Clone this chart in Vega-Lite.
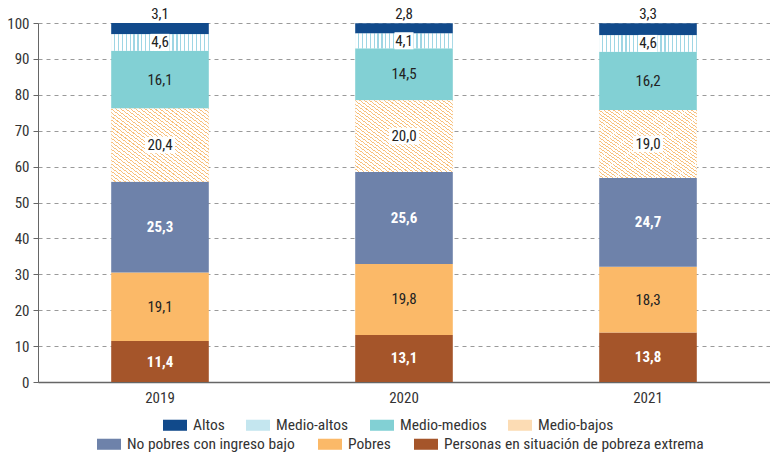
{
  "$schema": "https://vega.github.io/schema/vega-lite/v6.json",
  "width": 732,
  "height": 359,
  "autosize": "none",
  "padding": {"left": 38, "top": 23, "right": 0, "bottom": 72},
  "config": {
    "font": "Liberation Sans Narrow, Roboto Condensed, DejaVu Sans Condensed, sans-serif",
    "view": {"stroke": null},
    "axisY": {
      "tickCount": 12,
      "labelOverlap": false,
      "grid": true,
      "gridDash": [4, 4],
      "gridColor": "#9a9a9a",
      "domainColor": "#666666",
      "tickColor": "#666666",
      "tickSize": 5,
      "labelFontSize": 15,
      "labelColor": "#333333",
      "labelPadding": 4
    }
  },
  "data": {
    "values": [
      {"anio": "2019", "cat": "Personas en situación de pobreza extrema", "v": 11.4},
      {"anio": "2019", "cat": "Pobres", "v": 19.1},
      {"anio": "2019", "cat": "No pobres con ingreso bajo", "v": 25.3},
      {"anio": "2019", "cat": "Medio-bajos", "v": 20.4},
      {"anio": "2019", "cat": "Medio-medios", "v": 16.1},
      {"anio": "2019", "cat": "Medio-altos", "v": 4.6},
      {"anio": "2019", "cat": "Altos", "v": 3.1},
      {"anio": "2020", "cat": "Personas en situación de pobreza extrema", "v": 13.1},
      {"anio": "2020", "cat": "Pobres", "v": 19.8},
      {"anio": "2020", "cat": "No pobres con ingreso bajo", "v": 25.6},
      {"anio": "2020", "cat": "Medio-bajos", "v": 20.0},
      {"anio": "2020", "cat": "Medio-medios", "v": 14.5},
      {"anio": "2020", "cat": "Medio-altos", "v": 4.1},
      {"anio": "2020", "cat": "Altos", "v": 2.8},
      {"anio": "2021", "cat": "Personas en situación de pobreza extrema", "v": 13.8},
      {"anio": "2021", "cat": "Pobres", "v": 18.3},
      {"anio": "2021", "cat": "No pobres con ingreso bajo", "v": 24.7},
      {"anio": "2021", "cat": "Medio-bajos", "v": 19.0},
      {"anio": "2021", "cat": "Medio-medios", "v": 16.2},
      {"anio": "2021", "cat": "Medio-altos", "v": 4.6},
      {"anio": "2021", "cat": "Altos", "v": 3.3}
    ]
  },
  "transform": [
    {"calculate": "indexof(['Personas en situación de pobreza extrema','Pobres','No pobres con ingreso bajo','Medio-bajos','Medio-medios','Medio-altos','Altos'], datum.cat)", "as": "o"},
    {"stack": "v", "groupby": ["anio"], "sort": [{"field": "o", "order": "ascending"}], "as": ["y0", "y1"]},
    {"calculate": "(datum.y0 + datum.y1) / 2", "as": "ym"},
    {"calculate": "replace(format(datum.v, '.1f'), '.', ',')", "as": "lab"}
  ],
  "encoding": {
    "x": {
      "field": "anio",
      "type": "nominal",
      "scale": {"paddingInner": 0.6, "paddingOuter": 0.3},
      "axis": {
        "title": null,
        "labelAngle": 0,
        "labelFontSize": 15,
        "labelColor": "#333333",
        "labelPadding": 8,
        "ticks": false,
        "domainColor": "#666666",
        "domainWidth": 1.5
      }
    }
  },
  "layer": [
    {
      "transform": [{"filter": "indexof(['Medio-bajos','Medio-medios','Medio-altos','Altos'], datum.cat) >= 0"}],
      "mark": {"type": "bar"},
      "encoding": {
        "y": {
          "field": "y0",
          "type": "quantitative",
          "scale": {"domain": [0, 100], "nice": false},
          "axis": {"title": null, "tickCount": 12, "values": [0, 10, 20, 30, 40, 50, 60, 70, 80, 90, 100]}
        },
        "y2": {"field": "y1"},
        "color": {
          "field": "cat",
          "type": "nominal",
          "scale": {
            "domain": ["Altos", "Medio-altos", "Medio-medios", "Medio-bajos"],
            "range": ["#114a8b", "#c4e6ef", "#82d0d4", "#fcdcb4"]
          },
          "legend": {
            "title": null,
            "orient": "none",
            "legendX": 125,
            "legendY": 390,
            "direction": "horizontal",
            "symbolType": "M-1,-0.46H1V0.46H-1Z",
            "symbolSize": 576,
            "symbolStrokeWidth": 0,
            "labelFontSize": 15.5,
            "labelColor": "#333333",
            "labelOffset": 6,
            "labelLimit": 400,
            "columnPadding": 21
          }
        }
      }
    },
    {
      "transform": [{"filter": "indexof(['Medio-bajos','Medio-medios','Medio-altos','Altos'], datum.cat) < 0"}],
      "mark": {"type": "bar"},
      "encoding": {
        "y": {"field": "y0", "type": "quantitative", "axis": {"title": null, "tickCount": 12, "values": [0, 10, 20, 30, 40, 50, 60, 70, 80, 90, 100]}},
        "y2": {"field": "y1"},
        "fill": {
          "field": "cat",
          "type": "nominal",
          "scale": {
            "domain": ["No pobres con ingreso bajo", "Pobres", "Personas en situación de pobreza extrema"],
            "range": ["#6e82aa", "#fbb968", "#a5552a"]
          },
          "legend": {
            "title": null,
            "orient": "none",
            "legendX": 59,
            "legendY": 409,
            "direction": "horizontal",
            "symbolType": "M-1,-0.46H1V0.46H-1Z",
            "symbolSize": 576,
            "symbolStrokeWidth": 0,
            "labelFontSize": 15.5,
            "labelColor": "#333333",
            "labelOffset": 6,
            "labelLimit": 400,
            "columnPadding": 23
          }
        }
      }
    },
    {
      "transform": [{"filter": "datum.cat == 'Medio-altos'"}],
      "mark": {
        "type": "bar",
        "color": {"gradient": "linear", "x1": 0, "y1": 0, "x2": 1, "y2": 0, "stops": [
          {"offset": 0, "color": "#ffffff"}, {"offset": 0.028, "color": "#ffffff"}, {"offset": 0.028, "color": "#9fd6e4"}, {"offset": 0.04, "color": "#9fd6e4"},
          {"offset": 0.04, "color": "#ffffff"}, {"offset": 0.068, "color": "#ffffff"}, {"offset": 0.068, "color": "#9fd6e4"}, {"offset": 0.08, "color": "#9fd6e4"},
          {"offset": 0.08, "color": "#ffffff"}, {"offset": 0.108, "color": "#ffffff"}, {"offset": 0.108, "color": "#9fd6e4"}, {"offset": 0.12, "color": "#9fd6e4"},
          {"offset": 0.12, "color": "#ffffff"}, {"offset": 0.148, "color": "#ffffff"}, {"offset": 0.148, "color": "#9fd6e4"}, {"offset": 0.16, "color": "#9fd6e4"},
          {"offset": 0.16, "color": "#ffffff"}, {"offset": 0.188, "color": "#ffffff"}, {"offset": 0.188, "color": "#9fd6e4"}, {"offset": 0.2, "color": "#9fd6e4"},
          {"offset": 0.2, "color": "#ffffff"}, {"offset": 0.228, "color": "#ffffff"}, {"offset": 0.228, "color": "#9fd6e4"}, {"offset": 0.24, "color": "#9fd6e4"},
          {"offset": 0.24, "color": "#ffffff"}, {"offset": 0.268, "color": "#ffffff"}, {"offset": 0.268, "color": "#9fd6e4"}, {"offset": 0.28, "color": "#9fd6e4"},
          {"offset": 0.28, "color": "#ffffff"}, {"offset": 0.308, "color": "#ffffff"}, {"offset": 0.308, "color": "#9fd6e4"}, {"offset": 0.32, "color": "#9fd6e4"},
          {"offset": 0.32, "color": "#ffffff"}, {"offset": 0.348, "color": "#ffffff"}, {"offset": 0.348, "color": "#9fd6e4"}, {"offset": 0.36, "color": "#9fd6e4"},
          {"offset": 0.36, "color": "#ffffff"}, {"offset": 0.388, "color": "#ffffff"}, {"offset": 0.388, "color": "#9fd6e4"}, {"offset": 0.4, "color": "#9fd6e4"},
          {"offset": 0.4, "color": "#ffffff"}, {"offset": 0.428, "color": "#ffffff"}, {"offset": 0.428, "color": "#9fd6e4"}, {"offset": 0.44, "color": "#9fd6e4"},
          {"offset": 0.44, "color": "#ffffff"}, {"offset": 0.468, "color": "#ffffff"}, {"offset": 0.468, "color": "#9fd6e4"}, {"offset": 0.48, "color": "#9fd6e4"},
          {"offset": 0.48, "color": "#ffffff"}, {"offset": 0.508, "color": "#ffffff"}, {"offset": 0.508, "color": "#9fd6e4"}, {"offset": 0.52, "color": "#9fd6e4"},
          {"offset": 0.52, "color": "#ffffff"}, {"offset": 0.548, "color": "#ffffff"}, {"offset": 0.548, "color": "#9fd6e4"}, {"offset": 0.56, "color": "#9fd6e4"},
          {"offset": 0.56, "color": "#ffffff"}, {"offset": 0.588, "color": "#ffffff"}, {"offset": 0.588, "color": "#9fd6e4"}, {"offset": 0.6, "color": "#9fd6e4"},
          {"offset": 0.6, "color": "#ffffff"}, {"offset": 0.628, "color": "#ffffff"}, {"offset": 0.628, "color": "#9fd6e4"}, {"offset": 0.64, "color": "#9fd6e4"},
          {"offset": 0.64, "color": "#ffffff"}, {"offset": 0.668, "color": "#ffffff"}, {"offset": 0.668, "color": "#9fd6e4"}, {"offset": 0.68, "color": "#9fd6e4"},
          {"offset": 0.68, "color": "#ffffff"}, {"offset": 0.708, "color": "#ffffff"}, {"offset": 0.708, "color": "#9fd6e4"}, {"offset": 0.72, "color": "#9fd6e4"},
          {"offset": 0.72, "color": "#ffffff"}, {"offset": 0.748, "color": "#ffffff"}, {"offset": 0.748, "color": "#9fd6e4"}, {"offset": 0.76, "color": "#9fd6e4"},
          {"offset": 0.76, "color": "#ffffff"}, {"offset": 0.788, "color": "#ffffff"}, {"offset": 0.788, "color": "#9fd6e4"}, {"offset": 0.8, "color": "#9fd6e4"},
          {"offset": 0.8, "color": "#ffffff"}, {"offset": 0.828, "color": "#ffffff"}, {"offset": 0.828, "color": "#9fd6e4"}, {"offset": 0.84, "color": "#9fd6e4"},
          {"offset": 0.84, "color": "#ffffff"}, {"offset": 0.868, "color": "#ffffff"}, {"offset": 0.868, "color": "#9fd6e4"}, {"offset": 0.88, "color": "#9fd6e4"},
          {"offset": 0.88, "color": "#ffffff"}, {"offset": 0.908, "color": "#ffffff"}, {"offset": 0.908, "color": "#9fd6e4"}, {"offset": 0.92, "color": "#9fd6e4"},
          {"offset": 0.92, "color": "#ffffff"}, {"offset": 0.948, "color": "#ffffff"}, {"offset": 0.948, "color": "#9fd6e4"}, {"offset": 0.96, "color": "#9fd6e4"},
          {"offset": 0.96, "color": "#ffffff"}, {"offset": 0.988, "color": "#ffffff"}, {"offset": 0.988, "color": "#9fd6e4"}, {"offset": 1, "color": "#9fd6e4"}
        ]}
      },
      "encoding": {
        "y": {"field": "y0", "type": "quantitative", "axis": {"title": null, "tickCount": 12, "values": [0, 10, 20, 30, 40, 50, 60, 70, 80, 90, 100]}},
        "y2": {"field": "y1"}
      }
    },
    {
      "transform": [{"filter": "datum.cat == 'Medio-bajos'"}],
      "mark": {
        "type": "bar",
        "color": {"gradient": "linear", "x1": 0, "y1": 1, "x2": 1, "y2": 0, "stops": [
          {"offset": 0, "color": "#ffffff"}, {"offset": 0.018, "color": "#ffffff"}, {"offset": 0.018, "color": "#f8c07c"}, {"offset": 0.025, "color": "#f8c07c"},
          {"offset": 0.025, "color": "#ffffff"}, {"offset": 0.043, "color": "#ffffff"}, {"offset": 0.043, "color": "#f8c07c"}, {"offset": 0.05, "color": "#f8c07c"},
          {"offset": 0.05, "color": "#ffffff"}, {"offset": 0.068, "color": "#ffffff"}, {"offset": 0.068, "color": "#f8c07c"}, {"offset": 0.075, "color": "#f8c07c"},
          {"offset": 0.075, "color": "#ffffff"}, {"offset": 0.093, "color": "#ffffff"}, {"offset": 0.093, "color": "#f8c07c"}, {"offset": 0.1, "color": "#f8c07c"},
          {"offset": 0.1, "color": "#ffffff"}, {"offset": 0.118, "color": "#ffffff"}, {"offset": 0.118, "color": "#f8c07c"}, {"offset": 0.125, "color": "#f8c07c"},
          {"offset": 0.125, "color": "#ffffff"}, {"offset": 0.143, "color": "#ffffff"}, {"offset": 0.143, "color": "#f8c07c"}, {"offset": 0.15, "color": "#f8c07c"},
          {"offset": 0.15, "color": "#ffffff"}, {"offset": 0.168, "color": "#ffffff"}, {"offset": 0.168, "color": "#f8c07c"}, {"offset": 0.175, "color": "#f8c07c"},
          {"offset": 0.175, "color": "#ffffff"}, {"offset": 0.193, "color": "#ffffff"}, {"offset": 0.193, "color": "#f8c07c"}, {"offset": 0.2, "color": "#f8c07c"},
          {"offset": 0.2, "color": "#ffffff"}, {"offset": 0.218, "color": "#ffffff"}, {"offset": 0.218, "color": "#f8c07c"}, {"offset": 0.225, "color": "#f8c07c"},
          {"offset": 0.225, "color": "#ffffff"}, {"offset": 0.243, "color": "#ffffff"}, {"offset": 0.243, "color": "#f8c07c"}, {"offset": 0.25, "color": "#f8c07c"},
          {"offset": 0.25, "color": "#ffffff"}, {"offset": 0.268, "color": "#ffffff"}, {"offset": 0.268, "color": "#f8c07c"}, {"offset": 0.275, "color": "#f8c07c"},
          {"offset": 0.275, "color": "#ffffff"}, {"offset": 0.293, "color": "#ffffff"}, {"offset": 0.293, "color": "#f8c07c"}, {"offset": 0.3, "color": "#f8c07c"},
          {"offset": 0.3, "color": "#ffffff"}, {"offset": 0.318, "color": "#ffffff"}, {"offset": 0.318, "color": "#f8c07c"}, {"offset": 0.325, "color": "#f8c07c"},
          {"offset": 0.325, "color": "#ffffff"}, {"offset": 0.343, "color": "#ffffff"}, {"offset": 0.343, "color": "#f8c07c"}, {"offset": 0.35, "color": "#f8c07c"},
          {"offset": 0.35, "color": "#ffffff"}, {"offset": 0.368, "color": "#ffffff"}, {"offset": 0.368, "color": "#f8c07c"}, {"offset": 0.375, "color": "#f8c07c"},
          {"offset": 0.375, "color": "#ffffff"}, {"offset": 0.393, "color": "#ffffff"}, {"offset": 0.393, "color": "#f8c07c"}, {"offset": 0.4, "color": "#f8c07c"},
          {"offset": 0.4, "color": "#ffffff"}, {"offset": 0.418, "color": "#ffffff"}, {"offset": 0.418, "color": "#f8c07c"}, {"offset": 0.425, "color": "#f8c07c"},
          {"offset": 0.425, "color": "#ffffff"}, {"offset": 0.443, "color": "#ffffff"}, {"offset": 0.443, "color": "#f8c07c"}, {"offset": 0.45, "color": "#f8c07c"},
          {"offset": 0.45, "color": "#ffffff"}, {"offset": 0.468, "color": "#ffffff"}, {"offset": 0.468, "color": "#f8c07c"}, {"offset": 0.475, "color": "#f8c07c"},
          {"offset": 0.475, "color": "#ffffff"}, {"offset": 0.493, "color": "#ffffff"}, {"offset": 0.493, "color": "#f8c07c"}, {"offset": 0.5, "color": "#f8c07c"},
          {"offset": 0.5, "color": "#ffffff"}, {"offset": 0.518, "color": "#ffffff"}, {"offset": 0.518, "color": "#f8c07c"}, {"offset": 0.525, "color": "#f8c07c"},
          {"offset": 0.525, "color": "#ffffff"}, {"offset": 0.543, "color": "#ffffff"}, {"offset": 0.543, "color": "#f8c07c"}, {"offset": 0.55, "color": "#f8c07c"},
          {"offset": 0.55, "color": "#ffffff"}, {"offset": 0.568, "color": "#ffffff"}, {"offset": 0.568, "color": "#f8c07c"}, {"offset": 0.575, "color": "#f8c07c"},
          {"offset": 0.575, "color": "#ffffff"}, {"offset": 0.593, "color": "#ffffff"}, {"offset": 0.593, "color": "#f8c07c"}, {"offset": 0.6, "color": "#f8c07c"},
          {"offset": 0.6, "color": "#ffffff"}, {"offset": 0.618, "color": "#ffffff"}, {"offset": 0.618, "color": "#f8c07c"}, {"offset": 0.625, "color": "#f8c07c"},
          {"offset": 0.625, "color": "#ffffff"}, {"offset": 0.643, "color": "#ffffff"}, {"offset": 0.643, "color": "#f8c07c"}, {"offset": 0.65, "color": "#f8c07c"},
          {"offset": 0.65, "color": "#ffffff"}, {"offset": 0.668, "color": "#ffffff"}, {"offset": 0.668, "color": "#f8c07c"}, {"offset": 0.675, "color": "#f8c07c"},
          {"offset": 0.675, "color": "#ffffff"}, {"offset": 0.693, "color": "#ffffff"}, {"offset": 0.693, "color": "#f8c07c"}, {"offset": 0.7, "color": "#f8c07c"},
          {"offset": 0.7, "color": "#ffffff"}, {"offset": 0.718, "color": "#ffffff"}, {"offset": 0.718, "color": "#f8c07c"}, {"offset": 0.725, "color": "#f8c07c"},
          {"offset": 0.725, "color": "#ffffff"}, {"offset": 0.743, "color": "#ffffff"}, {"offset": 0.743, "color": "#f8c07c"}, {"offset": 0.75, "color": "#f8c07c"},
          {"offset": 0.75, "color": "#ffffff"}, {"offset": 0.768, "color": "#ffffff"}, {"offset": 0.768, "color": "#f8c07c"}, {"offset": 0.775, "color": "#f8c07c"},
          {"offset": 0.775, "color": "#ffffff"}, {"offset": 0.793, "color": "#ffffff"}, {"offset": 0.793, "color": "#f8c07c"}, {"offset": 0.8, "color": "#f8c07c"},
          {"offset": 0.8, "color": "#ffffff"}, {"offset": 0.818, "color": "#ffffff"}, {"offset": 0.818, "color": "#f8c07c"}, {"offset": 0.825, "color": "#f8c07c"},
          {"offset": 0.825, "color": "#ffffff"}, {"offset": 0.843, "color": "#ffffff"}, {"offset": 0.843, "color": "#f8c07c"}, {"offset": 0.85, "color": "#f8c07c"},
          {"offset": 0.85, "color": "#ffffff"}, {"offset": 0.868, "color": "#ffffff"}, {"offset": 0.868, "color": "#f8c07c"}, {"offset": 0.875, "color": "#f8c07c"},
          {"offset": 0.875, "color": "#ffffff"}, {"offset": 0.893, "color": "#ffffff"}, {"offset": 0.893, "color": "#f8c07c"}, {"offset": 0.9, "color": "#f8c07c"},
          {"offset": 0.9, "color": "#ffffff"}, {"offset": 0.918, "color": "#ffffff"}, {"offset": 0.918, "color": "#f8c07c"}, {"offset": 0.925, "color": "#f8c07c"},
          {"offset": 0.925, "color": "#ffffff"}, {"offset": 0.943, "color": "#ffffff"}, {"offset": 0.943, "color": "#f8c07c"}, {"offset": 0.95, "color": "#f8c07c"},
          {"offset": 0.95, "color": "#ffffff"}, {"offset": 0.968, "color": "#ffffff"}, {"offset": 0.968, "color": "#f8c07c"}, {"offset": 0.975, "color": "#f8c07c"},
          {"offset": 0.975, "color": "#ffffff"}, {"offset": 0.993, "color": "#ffffff"}, {"offset": 0.993, "color": "#f8c07c"}, {"offset": 1, "color": "#f8c07c"}
        ]}
      },
      "encoding": {
        "y": {"field": "y0", "type": "quantitative", "axis": {"title": null, "tickCount": 12, "values": [0, 10, 20, 30, 40, 50, 60, 70, 80, 90, 100]}},
        "y2": {"field": "y1"}
      }
    },
    {
      "transform": [{"filter": "datum.cat == 'Medio-bajos'"}],
      "mark": {"type": "point", "filled": true, "shape": "M-1,-0.55H1V0.55H-1Z", "size": 900, "color": "#ffffff", "opacity": 1},
      "encoding": {"y": {"field": "ym", "type": "quantitative", "axis": {"title": null, "tickCount": 12, "values": [0, 10, 20, 30, 40, 50, 60, 70, 80, 90, 100]}}}
    },
    {
      "transform": [{"filter": "datum.cat == 'Medio-altos'"}],
      "mark": {"type": "point", "filled": true, "shape": "M-1,-0.9H1V0.9H-1Z", "size": 361, "color": "#ffffff", "opacity": 1},
      "encoding": {"y": {"field": "ym", "type": "quantitative", "axis": {"title": null, "tickCount": 12, "values": [0, 10, 20, 30, 40, 50, 60, 70, 80, 90, 100]}}}
    },
    {
      "transform": [{"filter": "indexof(['Pobres','Medio-bajos','Medio-medios','Medio-altos'], datum.cat) >= 0"}],
      "mark": {"type": "text", "fontSize": 15, "color": "#222222", "baseline": "middle"},
      "encoding": {
        "y": {"field": "ym", "type": "quantitative", "axis": {"title": null, "tickCount": 12, "values": [0, 10, 20, 30, 40, 50, 60, 70, 80, 90, 100]}},
        "text": {"field": "lab"}
      }
    },
    {
      "transform": [{"filter": "indexof(['Personas en situación de pobreza extrema','No pobres con ingreso bajo'], datum.cat) >= 0"}],
      "mark": {"type": "text", "fontSize": 15, "fontWeight": "bold", "color": "#ffffff", "baseline": "middle"},
      "encoding": {
        "y": {"field": "ym", "type": "quantitative", "axis": {"title": null, "tickCount": 12, "values": [0, 10, 20, 30, 40, 50, 60, 70, 80, 90, 100]}},
        "text": {"field": "lab"}
      }
    },
    {
      "transform": [{"filter": "datum.cat == 'Altos'"}],
      "mark": {"type": "text", "fontSize": 15, "color": "#222222", "baseline": "bottom", "dy": -1},
      "encoding": {
        "y": {"field": "y1", "type": "quantitative", "axis": {"title": null, "tickCount": 12, "values": [0, 10, 20, 30, 40, 50, 60, 70, 80, 90, 100]}},
        "text": {"field": "lab"}
      }
    }
  ]
}
